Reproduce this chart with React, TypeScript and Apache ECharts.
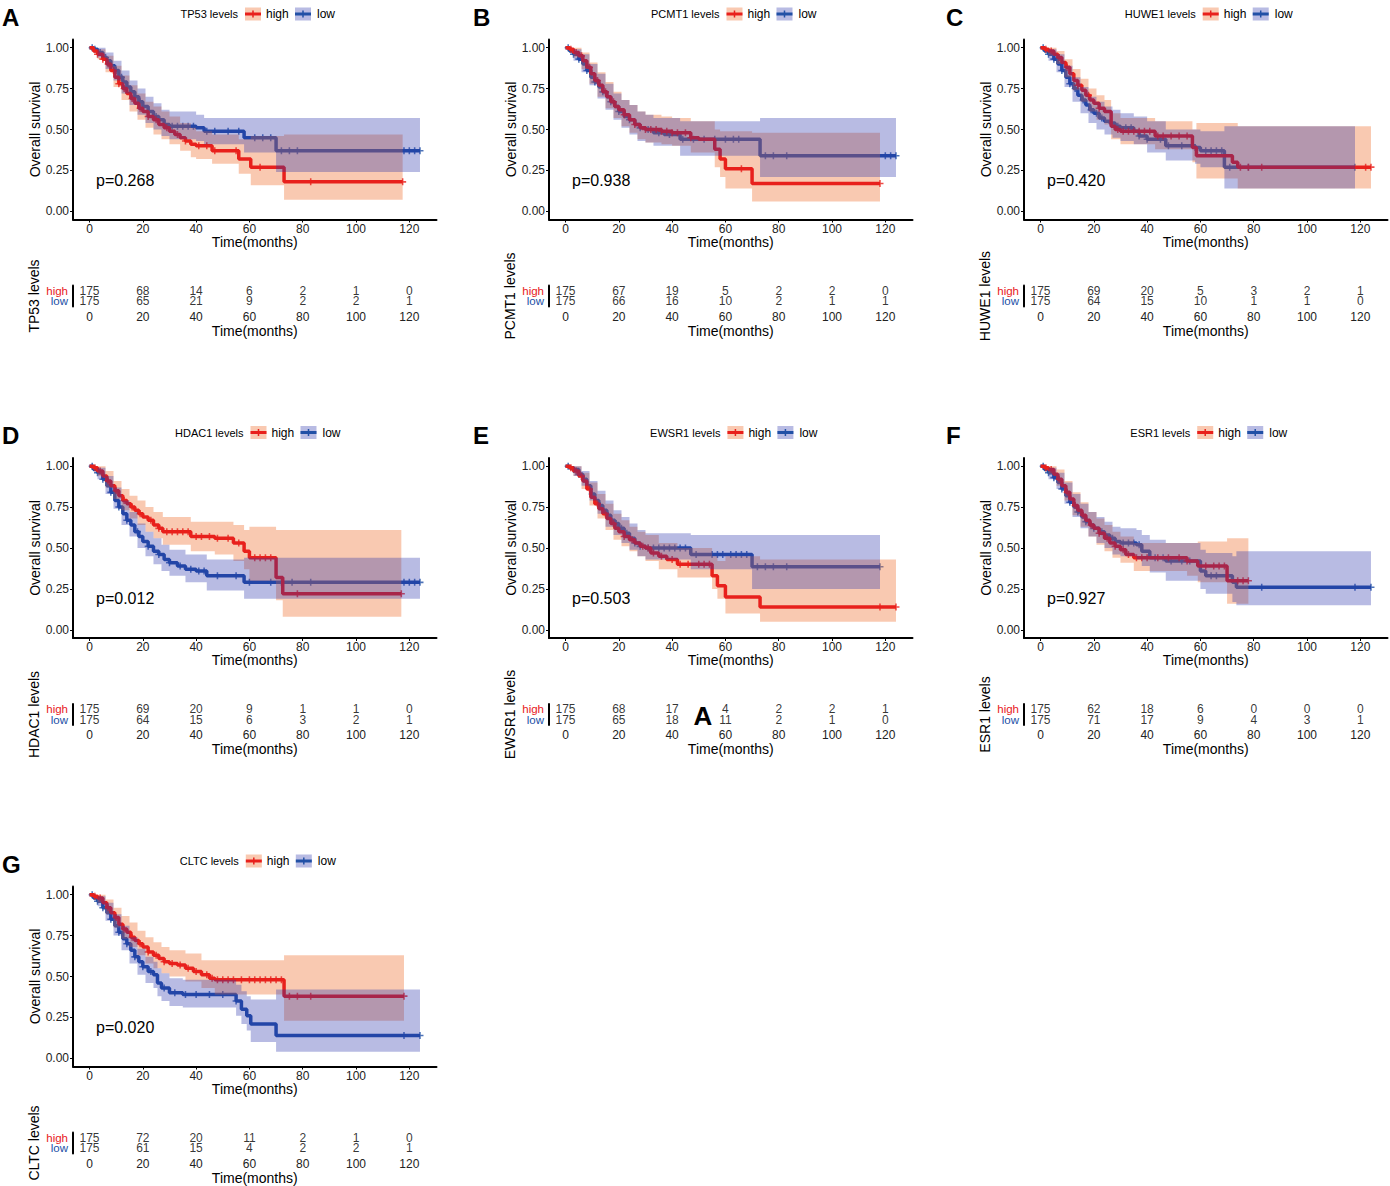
import React, { useEffect, useRef } from "react";
import * as echarts from "echarts";

// ---------------- data ----------------
const GENES = ["TP53", "PCMT1", "HUWE1", "HDAC1", "EWSR1", "ESR1", "CLTC"];
const PANEL_LETTERS = ["A", "B", "C", "D", "E", "F", "G"];
const P_VALUES = ["p=0.268", "p=0.938", "p=0.420", "p=0.012", "p=0.503", "p=0.927", "p=0.020"];
const TIME_TICKS = [0, 20, 40, 60, 80, 100, 120];
const SURV_TICKS = [0, 0.25, 0.5, 0.75, 1];
const GROUPS = ["low", "high"];

// curves: [time, survival] steps (last point = end of follow-up)
const TP53_HIGH = [[0,1],[1.5,0.98],[3,0.96],[5,0.93],[6.5,0.9],[8,0.86],[9.5,0.82],[11,0.78],[12.5,0.75],[14,0.72],[15.5,0.69],[17,0.66],[18.5,0.63],[20,0.61],[22,0.58],[24,0.56],[26,0.53],[28,0.51],[30,0.49],[32,0.47],[34,0.45],[36,0.43],[38,0.41],[40,0.4],[46,0.37],[56,0.32],[60.5,0.27],[73,0.18],[117.5,0.18]];
const TP53_LOW = [[0,1],[1.5,0.99],[3,0.97],[5,0.94],[6.5,0.92],[8,0.89],[9.5,0.86],[11,0.82],[12.5,0.79],[14,0.76],[15.5,0.73],[17,0.7],[18.5,0.67],[20,0.64],[22,0.61],[24,0.58],[26,0.56],[28,0.53],[30,0.52],[40,0.51],[43,0.49],[58,0.45],[70,0.37],[124,0.37]];
const TP53_HIGH_CI = [[0,1,1],[3,0.93,0.99],[6,0.85,0.95],[9,0.76,0.89],[12,0.68,0.83],[15,0.61,0.77],[18,0.56,0.72],[21,0.51,0.67],[24,0.47,0.64],[27,0.44,0.61],[30,0.41,0.58],[34,0.37,0.54],[38,0.33,0.51],[40,0.32,0.49],[46,0.29,0.47],[56,0.23,0.44],[60.5,0.16,0.46],[73,0.07,0.47],[117.5,0.07,0.47]];
const TP53_LOW_CI = [[0,1,1],[3,0.94,1],[6,0.87,0.97],[9,0.8,0.92],[12,0.72,0.86],[15,0.65,0.8],[18,0.59,0.75],[21,0.54,0.7],[24,0.5,0.66],[27,0.46,0.62],[30,0.44,0.61],[40,0.43,0.59],[43,0.41,0.57],[58,0.36,0.57],[70,0.24,0.57],[124,0.24,0.57]];
const TP53_HIGH_CENS = [3,5,7,9,11,13,16,19,22,25,29,33,36,41,44,47,55,64,83,117.5];
const TP53_LOW_CENS = [1,2,4,6,8,10,12,14,17,19,22,25,28,31,33,35,37,39,44,47,52,56,62,65,68,72,75,78,118,120,122,124];
const TP53_RISK_HIGH = [175,68,14,6,2,1,0];
const TP53_RISK_LOW = [175,65,21,9,2,2,1];

const PCMT1_HIGH = [[0,1],[1.5,0.99],[3,0.97],[5,0.95],[6.5,0.92],[8,0.88],[9.5,0.84],[11,0.8],[12.5,0.77],[14,0.73],[15.5,0.7],[17,0.67],[18.5,0.64],[20,0.62],[22,0.59],[24,0.56],[26,0.53],[28,0.51],[30,0.5],[36,0.49],[40,0.48],[47,0.45],[50,0.44],[56,0.38],[58,0.32],[60,0.26],[70,0.17],[118,0.17]];
const PCMT1_LOW = [[0,1],[1.5,0.98],[3,0.96],[5,0.93],[6.5,0.9],[8,0.86],[9.5,0.82],[11,0.79],[12.5,0.76],[14,0.73],[15.5,0.7],[17,0.67],[18.5,0.64],[20,0.61],[22,0.58],[24,0.56],[26,0.53],[28,0.51],[30,0.5],[33,0.48],[37,0.47],[43,0.44],[73,0.34],[124,0.34]];
const PCMT1_HIGH_CI = [[0,1,1],[3,0.94,1],[6,0.87,0.97],[9,0.78,0.91],[12,0.7,0.85],[15,0.63,0.79],[18,0.57,0.73],[21,0.52,0.68],[24,0.48,0.65],[27,0.44,0.61],[30,0.42,0.59],[36,0.41,0.58],[40,0.4,0.57],[47,0.36,0.55],[56,0.27,0.5],[58,0.21,0.49],[60,0.14,0.49],[70,0.06,0.48],[118,0.06,0.48]];
const PCMT1_LOW_CI = [[0,1,1],[3,0.92,0.99],[6,0.85,0.96],[9,0.77,0.9],[12,0.69,0.84],[15,0.62,0.78],[18,0.56,0.72],[21,0.51,0.68],[24,0.47,0.65],[27,0.43,0.61],[30,0.42,0.59],[33,0.4,0.57],[43,0.34,0.55],[73,0.21,0.57],[124,0.21,0.57]];
const PCMT1_HIGH_CENS = [2,4,6,9,12,15,18,22,26,30,32,34,36,38,40,42,45,47,66,118];
const PCMT1_LOW_CENS = [1,3,5,8,11,14,17,20,24,28,31,35,39,44,48,52,56,60,63,65,75,78,83,120,122,124];
const PCMT1_RISK_HIGH = [175,67,19,5,2,2,0];
const PCMT1_RISK_LOW = [175,66,16,10,2,1,1];

const HUWE1_HIGH = [[0,1],[1.5,0.99],[3,0.98],[5,0.96],[6.5,0.94],[8,0.91],[9.5,0.88],[11,0.84],[12.5,0.8],[14,0.77],[15.5,0.74],[17,0.71],[18.5,0.68],[20,0.66],[22,0.63],[24,0.61],[26.5,0.52],[28,0.5],[30,0.49],[43,0.46],[57,0.39],[58.5,0.34],[72,0.3],[74,0.27],[124,0.27]];
const HUWE1_LOW = [[0,1],[1.5,0.98],[3,0.96],[5,0.93],[6.5,0.9],[8,0.86],[9.5,0.82],[11,0.78],[12.5,0.75],[14,0.71],[15.5,0.68],[17,0.65],[18.5,0.62],[20,0.6],[22,0.57],[24,0.55],[26,0.54],[28,0.52],[30,0.51],[35,0.49],[37,0.46],[40,0.44],[47,0.4],[58,0.39],[60,0.37],[69,0.27],[118,0.27]];
const HUWE1_HIGH_CI = [[0,1,1],[3,0.95,1],[6,0.9,0.98],[9,0.82,0.93],[12,0.74,0.87],[15,0.67,0.81],[18,0.61,0.75],[21,0.56,0.71],[24,0.53,0.68],[26.5,0.44,0.6],[30,0.41,0.57],[43,0.38,0.55],[57,0.3,0.5],[58.5,0.2,0.54],[74,0.14,0.52],[124,0.14,0.52]];
const HUWE1_LOW_CI = [[0,1,1],[3,0.92,0.99],[6,0.85,0.96],[9,0.76,0.89],[12,0.67,0.82],[15,0.6,0.76],[18,0.54,0.7],[21,0.5,0.67],[24,0.47,0.64],[27,0.45,0.62],[30,0.43,0.6],[35,0.41,0.58],[40,0.36,0.55],[47,0.31,0.5],[58,0.29,0.5],[60,0.27,0.49],[69,0.14,0.52],[118,0.14,0.52]];
const HUWE1_HIGH_CENS = [2,4,7,10,14,18,22,29,31,33,35,37,39,41,44,46,49,52,55,75,78,83,122,124];
const HUWE1_LOW_CENS = [1,3,5,8,11,13,16,19,21,23,29,32,34,37,40,45,48,53,58,62,64,66,68,71,78,118];
const HUWE1_RISK_HIGH = [175,69,20,5,3,2,1];
const HUWE1_RISK_LOW = [175,64,15,10,1,1,0];

const HDAC1_HIGH = [[0,1],[1.5,0.99],[3,0.97],[5,0.94],[6.5,0.91],[8,0.88],[9.5,0.85],[11,0.82],[12.5,0.79],[14,0.77],[15.5,0.75],[17,0.73],[18.5,0.71],[20,0.69],[22,0.67],[24,0.64],[26,0.62],[27.5,0.6],[38,0.57],[47,0.56],[54,0.53],[58,0.48],[60,0.44],[70,0.32],[72.5,0.22],[117,0.22]];
const HDAC1_LOW = [[0,1],[1.5,0.98],[3,0.96],[5,0.92],[6.5,0.88],[8,0.84],[9.5,0.79],[11,0.75],[12.5,0.71],[14,0.67],[15.5,0.64],[17,0.6],[18.5,0.57],[20,0.54],[22,0.51],[24,0.48],[26,0.46],[28,0.43],[30,0.41],[33,0.39],[36,0.37],[40,0.36],[44,0.33],[58,0.29],[124,0.29]];
const HDAC1_HIGH_CI = [[0,1,1],[3,0.94,1],[6,0.87,0.97],[9,0.8,0.91],[12,0.73,0.86],[15,0.68,0.82],[18,0.64,0.79],[21,0.6,0.75],[24,0.56,0.72],[27.5,0.52,0.69],[38,0.48,0.66],[47,0.46,0.66],[54,0.42,0.64],[58,0.37,0.61],[60,0.3,0.63],[70,0.18,0.61],[72.5,0.08,0.61],[117,0.08,0.61]];
const HDAC1_LOW_CI = [[0,1,1],[3,0.92,0.99],[6,0.83,0.94],[9,0.74,0.87],[12,0.64,0.79],[15,0.57,0.72],[18,0.5,0.65],[21,0.45,0.6],[24,0.4,0.56],[27,0.36,0.52],[30,0.33,0.49],[36,0.29,0.46],[44,0.24,0.43],[58,0.19,0.44],[124,0.19,0.44]];
const HDAC1_HIGH_CENS = [2,4,7,10,13,16,19,23,26,29,31,33,35,37,40,42,45,48,52,56,62,64,66,68,78,117];
const HDAC1_LOW_CENS = [1,3,5,8,11,14,18,22,26,30,34,38,41,43,48,55,60,68,72,76,83,118,120,122,124];
const HDAC1_RISK_HIGH = [175,69,20,9,1,1,0];
const HDAC1_RISK_LOW = [175,64,15,6,3,2,1];

const EWSR1_HIGH = [[0,1],[1.5,0.99],[3,0.97],[5,0.94],[6.5,0.91],[8,0.86],[9.5,0.81],[11,0.77],[12.5,0.74],[14,0.71],[15.5,0.68],[17,0.65],[18.5,0.62],[20,0.6],[22,0.57],[24,0.55],[26,0.53],[28,0.51],[30,0.5],[32,0.47],[35,0.45],[38,0.43],[42,0.4],[55,0.33],[57,0.27],[60,0.2],[73,0.14],[124,0.14]];
const EWSR1_LOW = [[0,1],[1.5,0.99],[3,0.98],[5,0.95],[6.5,0.92],[8,0.88],[9.5,0.83],[11,0.79],[12.5,0.76],[14,0.73],[15.5,0.7],[17,0.67],[18.5,0.65],[20,0.62],[22,0.59],[24,0.56],[26,0.53],[28,0.51],[30,0.5],[47,0.46],[70,0.385],[118,0.385]];
const EWSR1_HIGH_CI = [[0,1,1],[3,0.94,1],[6,0.86,0.96],[9,0.76,0.9],[12,0.68,0.83],[15,0.61,0.77],[18,0.55,0.71],[21,0.51,0.67],[24,0.48,0.63],[27,0.45,0.6],[30,0.42,0.58],[35,0.37,0.53],[42,0.32,0.5],[55,0.25,0.45],[57,0.19,0.42],[60,0.1,0.45],[73,0.05,0.43],[124,0.05,0.43]];
const EWSR1_LOW_CI = [[0,1,1],[3,0.94,1],[6,0.88,0.97],[9,0.79,0.91],[12,0.71,0.85],[15,0.63,0.79],[18,0.58,0.73],[21,0.53,0.69],[24,0.49,0.65],[27,0.45,0.61],[30,0.43,0.59],[47,0.37,0.58],[70,0.25,0.58],[118,0.25,0.58]];
const EWSR1_HIGH_CENS = [2,4,6,9,12,15,18,22,25,29,31,33,36,40,43,46,50,52,54,118,124];
const EWSR1_LOW_CENS = [1,3,5,7,10,13,16,19,21,23,26,28,31,33,35,37,39,41,43,45,49,55,57,59,62,64,66,68,72,75,78,83,118];
const EWSR1_RISK_HIGH = [175,68,17,4,2,2,1];
const EWSR1_RISK_LOW = [175,65,18,11,2,1,0];

const ESR1_HIGH = [[0,1],[1.5,0.99],[3,0.98],[5,0.95],[6.5,0.92],[8,0.88],[9.5,0.84],[11,0.8],[12.5,0.76],[14,0.73],[15.5,0.7],[17,0.67],[18.5,0.64],[20,0.62],[22,0.59],[24,0.56],[26,0.53],[28,0.51],[30,0.49],[32,0.46],[35,0.44],[55,0.42],[59,0.39],[70,0.3],[78,0.3]];
const ESR1_LOW = [[0,1],[1.5,0.98],[3,0.96],[5,0.93],[6.5,0.9],[8,0.86],[9.5,0.82],[11,0.78],[12.5,0.75],[14,0.72],[15.5,0.69],[17,0.66],[18.5,0.64],[20,0.62],[22,0.6],[24,0.58],[26,0.56],[28,0.54],[30,0.53],[36,0.52],[38,0.48],[41,0.44],[47,0.42],[60,0.36],[62,0.33],[72,0.29],[73.5,0.26],[124,0.26]];
const ESR1_HIGH_CI = [[0,1,1],[3,0.95,1],[6,0.88,0.98],[9,0.79,0.91],[12,0.7,0.84],[15,0.63,0.78],[18,0.57,0.72],[21,0.52,0.68],[24,0.48,0.64],[27,0.44,0.6],[30,0.41,0.57],[35,0.36,0.53],[55,0.33,0.53],[59,0.29,0.54],[70,0.16,0.56],[78,0.16,0.56]];
const ESR1_LOW_CI = [[0,1,1],[3,0.92,0.99],[6,0.86,0.96],[9,0.77,0.9],[12,0.69,0.83],[15,0.62,0.77],[18,0.57,0.72],[21,0.53,0.69],[24,0.5,0.66],[27,0.46,0.63],[30,0.45,0.62],[36,0.43,0.61],[38,0.39,0.58],[41,0.35,0.55],[47,0.3,0.53],[60,0.25,0.49],[62,0.22,0.47],[72,0.17,0.45],[73.5,0.15,0.48],[124,0.15,0.48]];
const ESR1_HIGH_CENS = [2,4,7,10,13,16,19,22,25,28,31,33,36,38,40,44,48,52,55,62,65,67,69,74,76,78];
const ESR1_LOW_CENS = [1,3,5,8,11,14,17,20,23,27,31,33,35,37,43,46,49,53,56,64,66,83,118,124];
const ESR1_RISK_HIGH = [175,62,18,6,0,0,0];
const ESR1_RISK_LOW = [175,71,17,9,4,3,1];

const CLTC_HIGH = [[0,1],[1.5,0.99],[3,0.98],[5,0.95],[6.5,0.92],[8,0.89],[9.5,0.86],[11,0.82],[12.5,0.79],[14,0.77],[15.5,0.74],[17,0.72],[18.5,0.7],[20,0.68],[22,0.65],[24,0.63],[26,0.61],[28,0.59],[30,0.58],[33,0.57],[36,0.55],[39,0.53],[42,0.51],[45,0.49],[47,0.48],[73,0.38],[118,0.38]];
const CLTC_LOW = [[0,1],[1.5,0.98],[3,0.96],[5,0.92],[6.5,0.89],[8,0.85],[9.5,0.81],[11,0.77],[12.5,0.73],[14,0.7],[15.5,0.66],[17,0.62],[18.5,0.59],[20,0.56],[22,0.53],[24,0.51],[25.5,0.46],[27,0.43],[30,0.4],[35,0.39],[55,0.35],[57,0.3],[59,0.26],[60.5,0.21],[70,0.14],[124,0.14]];
const CLTC_HIGH_CI = [[0,1,1],[3,0.95,1],[6,0.88,0.97],[9,0.8,0.92],[12,0.73,0.87],[15,0.68,0.83],[18,0.63,0.78],[21,0.58,0.74],[24,0.55,0.71],[27,0.52,0.68],[30,0.5,0.66],[36,0.47,0.64],[42,0.43,0.6],[47,0.39,0.6],[73,0.23,0.63],[118,0.23,0.63]];
const CLTC_LOW_CI = [[0,1,1],[3,0.93,0.99],[6,0.84,0.95],[9,0.75,0.88],[12,0.66,0.81],[15,0.58,0.74],[18,0.51,0.67],[21,0.46,0.62],[24,0.43,0.59],[25.5,0.38,0.55],[27,0.35,0.52],[30,0.32,0.49],[35,0.31,0.48],[55,0.26,0.45],[57,0.21,0.41],[59,0.17,0.38],[60.5,0.1,0.36],[70,0.04,0.42],[124,0.04,0.42]];
const CLTC_HIGH_CENS = [2,4,7,10,13,16,19,22,25,28,31,34,37,40,44,46,48,50,52,54,57,60,62,64,66,68,70,72,75,78,83,118];
const CLTC_LOW_CENS = [1,3,5,8,11,14,17,20,23,28,32,36,40,45,50,55,118,124];
const CLTC_RISK_HIGH = [175,72,20,11,2,1,0];
const CLTC_RISK_LOW = [175,61,15,4,2,2,1];

const PANELS = [
  { high: TP53_HIGH, low: TP53_LOW, highCI: TP53_HIGH_CI, lowCI: TP53_LOW_CI, highCens: TP53_HIGH_CENS, lowCens: TP53_LOW_CENS, riskHigh: TP53_RISK_HIGH, riskLow: TP53_RISK_LOW },
  { high: PCMT1_HIGH, low: PCMT1_LOW, highCI: PCMT1_HIGH_CI, lowCI: PCMT1_LOW_CI, highCens: PCMT1_HIGH_CENS, lowCens: PCMT1_LOW_CENS, riskHigh: PCMT1_RISK_HIGH, riskLow: PCMT1_RISK_LOW },
  { high: HUWE1_HIGH, low: HUWE1_LOW, highCI: HUWE1_HIGH_CI, lowCI: HUWE1_LOW_CI, highCens: HUWE1_HIGH_CENS, lowCens: HUWE1_LOW_CENS, riskHigh: HUWE1_RISK_HIGH, riskLow: HUWE1_RISK_LOW },
  { high: HDAC1_HIGH, low: HDAC1_LOW, highCI: HDAC1_HIGH_CI, lowCI: HDAC1_LOW_CI, highCens: HDAC1_HIGH_CENS, lowCens: HDAC1_LOW_CENS, riskHigh: HDAC1_RISK_HIGH, riskLow: HDAC1_RISK_LOW },
  { high: EWSR1_HIGH, low: EWSR1_LOW, highCI: EWSR1_HIGH_CI, lowCI: EWSR1_LOW_CI, highCens: EWSR1_HIGH_CENS, lowCens: EWSR1_LOW_CENS, riskHigh: EWSR1_RISK_HIGH, riskLow: EWSR1_RISK_LOW },
  { high: ESR1_HIGH, low: ESR1_LOW, highCI: ESR1_HIGH_CI, lowCI: ESR1_LOW_CI, highCens: ESR1_HIGH_CENS, lowCens: ESR1_LOW_CENS, riskHigh: ESR1_RISK_HIGH, riskLow: ESR1_RISK_LOW },
  { high: CLTC_HIGH, low: CLTC_LOW, highCI: CLTC_HIGH_CI, lowCI: CLTC_LOW_CI, highCens: CLTC_HIGH_CENS, lowCens: CLTC_LOW_CENS, riskHigh: CLTC_RISK_HIGH, riskLow: CLTC_RISK_LOW },
];

// ---------------- styling / layout ----------------
const FONT = "'Liberation Sans', Arial, Helvetica, sans-serif";
const RED = "#E8201C";
const BLUE = "#2150A6";
const RED_FILL = "rgba(240,120,60,0.40)";
const BLUE_FILL = "rgba(40,50,170,0.33)";
const COL_X = [0, 476, 951];
const ROW_Y = [0, 418.5, 847];
const LETTER_X = [2, 473, 946];
const X_MIN = -6.2;
const X_MAX = 130.2;
const PLUS = "path://M-0.22,-1H0.22V-0.22H1V0.22H0.22V1H-0.22V0.22H-1V-0.22H-0.22Z";

function survAt(curve: number[][], t: number) {
  let s = curve[0][1];
  for (const [ti, si] of curve) {
    if (ti <= t) s = si;
    else break;
  }
  return s;
}

function bandSeries(band: number[][], fill: string, axis: number, z: number) {
  return {
    type: "custom",
    xAxisIndex: axis,
    yAxisIndex: axis,
    z,
    silent: true,
    data: band,
    encode: { x: 0, y: [1, 2] },
    renderItem: (params: any, api: any) => {
      if (params.dataIndex !== 0) return null;
      const pts: number[][] = [];
      for (let i = 0; i < band.length - 1; i++) {
        pts.push(api.coord([band[i][0], band[i][2]]));
        pts.push(api.coord([band[i + 1][0], band[i][2]]));
      }
      for (let i = band.length - 2; i >= 0; i--) {
        pts.push(api.coord([band[i + 1][0], band[i][1]]));
        pts.push(api.coord([band[i][0], band[i][1]]));
      }
      return { type: "polygon", shape: { points: pts }, style: { fill } };
    },
  };
}

function txt(x: number, y: number, text: string, size: number, opts: any = {}) {
  const align = opts.align || "left";
  return {
    type: "text",
    x,
    y,
    silent: true,
    style: {
      text,
      fontSize: size,
      fontFamily: FONT,
      fontWeight: opts.bold ? "bold" : "normal",
      fill: opts.color || "#000",
      align,
      textAlign: align,
      verticalAlign: "middle",
      textVerticalAlign: "middle",
    },
  };
}

function buildOption() {
  const grids: any[] = [];
  const xAxes: any[] = [];
  const yAxes: any[] = [];
  const series: any[] = [];
  const graphics: any[] = [];

  const canvas = document.createElement("canvas");
  const ctx = canvas.getContext("2d")!;
  ctx.font = `11px ${FONT}`;
  const w0 = ctx.measureText("TP53 levels").width;

  const axisLine = { onZero: false, lineStyle: { color: "#000", width: 2 } };
  const tickStyle = { color: "#000", width: 1 };
  const labelBase = { fontSize: 12, color: "#222", fontFamily: FONT };
  const nameStyle = { fontSize: 14, color: "#000", fontFamily: FONT };

  PANELS.forEach((p, k) => {
    const col = k % 3;
    const row = Math.floor(k / 3);
    const ox = COL_X[col];
    const oy = ROW_Y[row];
    const gi = 2 * k;
    const ri = 2 * k + 1;
    const gene = GENES[k];

    grids.push({ left: ox + 73, top: oy + 39.5, width: 363.5, height: 180, containLabel: false, outerBoundsMode: "none" });
    grids.push({ left: ox + 73, top: oy + 285.5, width: 363.5, height: 21, containLabel: false, outerBoundsMode: "none" });

    xAxes.push({
      gridIndex: gi, type: "value", min: X_MIN, max: X_MAX,
      name: "Time(months)", nameLocation: "middle", nameGap: 15, nameMoveOverlap: false, nameTextStyle: nameStyle,
      axisLine, axisTick: { customValues: TIME_TICKS, length: 3, lineStyle: tickStyle },
      axisLabel: { ...labelBase, customValues: TIME_TICKS, margin: 3 },
      splitLine: { show: false },
    });
    yAxes.push({
      gridIndex: gi, type: "value", min: -0.05, max: 1.05,
      name: "Overall survival", nameLocation: "middle", nameGap: 31, nameMoveOverlap: false, nameTextStyle: nameStyle,
      axisLine, axisTick: { customValues: SURV_TICKS, length: 3, lineStyle: tickStyle },
      axisLabel: { ...labelBase, customValues: SURV_TICKS, margin: 4, formatter: (v: number) => v.toFixed(2) },
      splitLine: { show: false },
    });
    xAxes.push({
      gridIndex: ri, type: "value", min: X_MIN, max: X_MAX,
      name: "Time(months)", nameLocation: "middle", nameGap: 17, nameMoveOverlap: false, nameTextStyle: nameStyle,
      axisLine, axisTick: { customValues: TIME_TICKS, length: 3, lineStyle: tickStyle },
      axisLabel: { ...labelBase, customValues: TIME_TICKS, margin: 4 },
      splitLine: { show: false },
    });
    yAxes.push({
      gridIndex: ri, type: "category", data: GROUPS,
      name: `${gene} levels`, nameLocation: "middle", nameGap: 32, nameMoveOverlap: false, nameTextStyle: nameStyle,
      axisLine, axisTick: { alignWithLabel: true, interval: 0, length: 3, lineStyle: tickStyle },
      axisLabel: {
        interval: 0,
        hideOverlap: false,
        margin: 5,
        formatter: (v: string) => (v === "high" ? "{h|high}" : "{l|low}"),
        rich: {
          h: { color: RED, fontSize: 11.5, fontFamily: FONT },
          l: { color: BLUE, fontSize: 11.5, fontFamily: FONT },
        },
      },
      splitLine: { show: false },
    });

    // KM curves: blue line, red band, red line, blue band (stacking as in reference)
    series.push({
      type: "line", step: "end", xAxisIndex: gi, yAxisIndex: gi, data: p.low,
      showSymbol: false, symbol: "none", silent: true, z: 2,
      lineStyle: { color: BLUE, width: 3.5 },
    });
    series.push({
      type: "scatter", xAxisIndex: gi, yAxisIndex: gi, silent: true, z: 2,
      data: p.lowCens.map((t) => [t, survAt(p.low, t)]),
      symbol: PLUS, symbolSize: 7, itemStyle: { color: BLUE },
    });
    series.push(bandSeries(p.highCI, RED_FILL, gi, 3));
    series.push({
      type: "line", step: "end", xAxisIndex: gi, yAxisIndex: gi, data: p.high,
      showSymbol: false, symbol: "none", silent: true, z: 4,
      lineStyle: { color: RED, width: 3.5 },
    });
    series.push({
      type: "scatter", xAxisIndex: gi, yAxisIndex: gi, silent: true, z: 4,
      data: p.highCens.map((t) => [t, survAt(p.high, t)]),
      symbol: PLUS, symbolSize: 7, itemStyle: { color: RED },
    });
    series.push(bandSeries(p.lowCI, BLUE_FILL, gi, 5));

    // risk table
    const riskLabel = {
      show: true, position: "inside", fontSize: 12, color: "#000", fontFamily: FONT,
      formatter: (q: any) => String(q.value[2]),
    };
    series.push({
      type: "scatter", xAxisIndex: ri, yAxisIndex: ri, silent: true, z: 6,
      data: TIME_TICKS.map((t, i) => [t, 1, p.riskHigh[i]]),
      symbol: "circle", symbolSize: 1, itemStyle: { color: "rgba(0,0,0,0)" }, label: riskLabel,
    });
    series.push({
      type: "scatter", xAxisIndex: ri, yAxisIndex: ri, silent: true, z: 6,
      data: TIME_TICKS.map((t, i) => [t, 0, p.riskLow[i]]),
      symbol: "circle", symbolSize: 1, itemStyle: { color: "rgba(0,0,0,0)" }, label: riskLabel,
    });

    // panel letter, legend, p-value
    graphics.push(txt(LETTER_X[col], oy + 17, PANEL_LETTERS[k], 24, { bold: true }));
    const w = ctx.measureText(`${gene} levels`).width;
    const keyX = ox + 245 + (w - w0) / 2;
    const ly = oy + 14;
    graphics.push(txt(keyX - 7, ly, `${gene} levels`, 11, { align: "right" }));
    [
      { x: keyX, fill: RED_FILL, color: RED, label: "high", tx: keyX + 21 },
      { x: keyX + 50, fill: BLUE_FILL, color: BLUE, label: "low", tx: keyX + 72 },
    ].forEach((kk) => {
      graphics.push({ type: "rect", silent: true, shape: { x: kk.x, y: ly - 6.5, width: 16, height: 13 }, style: { fill: kk.fill } });
      graphics.push({ type: "line", silent: true, shape: { x1: kk.x, y1: ly, x2: kk.x + 16, y2: ly }, style: { stroke: kk.color, lineWidth: 3 } });
      graphics.push({ type: "line", silent: true, shape: { x1: kk.x + 8, y1: ly - 3.5, x2: kk.x + 8, y2: ly + 3.5 }, style: { stroke: kk.color, lineWidth: 1.5 } });
      graphics.push(txt(kk.tx, ly, kk.label, 12));
    });
    graphics.push(txt(ox + 96, oy + 180, P_VALUES[k], 16));
  });

  // stray glyph present in the reference (panel E risk table)
  graphics.push(txt(703, 716, "A", 26, { bold: true, align: "center" }));

  return {
    animation: false,
    backgroundColor: "#fff",
    textStyle: { fontFamily: FONT },
    grid: grids,
    xAxis: xAxes,
    yAxis: yAxes,
    series,
    graphic: { elements: graphics },
  };
}

export default function App() {
  const ref = useRef<HTMLDivElement>(null);
  useEffect(() => {
    if (!ref.current) return;
    const chart = echarts.init(ref.current, undefined, { renderer: "svg" });
    chart.setOption(buildOption() as any);
    return () => chart.dispose();
  }, []);
  return (
    <div
      ref={ref}
      style={{ position: "absolute", left: 0, top: 0, width: 1390, height: 1186, background: "#fff" }}
    />
  );
}
